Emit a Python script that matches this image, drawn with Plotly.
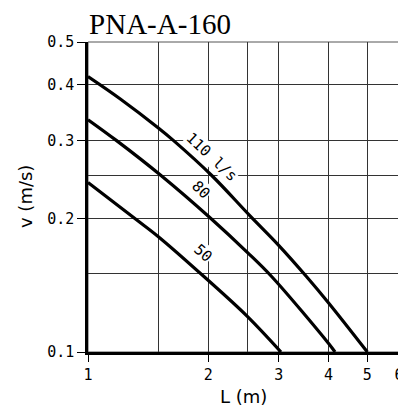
import plotly.graph_objects as go
import math

# Data
L_110 = [1.0, 1.2, 1.5, 1.635, 2.04, 2.54, 3.0, 3.52, 4.0, 5.0]
v_110 = [0.418, 0.373, 0.32, 0.30, 0.25, 0.203, 0.174, 0.148, 0.129, 0.10]
L_80 = [1.0, 1.177, 1.523, 2.03, 2.5, 2.88, 4.0, 4.15]
v_80 = [0.334, 0.30, 0.25, 0.20, 0.168, 0.148, 0.1045, 0.10]
L_50 = [1.0, 1.32, 1.5, 1.95, 2.5, 3.04]
v_50 = [0.241, 0.199, 0.182, 0.148, 0.1205, 0.10]

x_ticks = [1, 2, 3, 4, 5, 6]
x_minor = [1.5, 2.5]
y_ticks = [0.1, 0.2, 0.3, 0.4, 0.5]
y_minor = [0.15, 0.25]

labels = ["110 l/s", "80", "50"]
label_pos = [(2.04, 0.275, 43), (1.92, 0.232, 45), (1.94, 0.167, 42)]

fig = go.Figure()
for L, v in [(L_110, v_110), (L_80, v_80), (L_50, v_50)]:
    fig.add_trace(go.Scatter(x=L, y=v, mode="lines",
                             line=dict(color="black", width=3.2, shape="spline", smoothing=1.0),
                             showlegend=False, hoverinfo="skip"))

for txt, (lx, ly, ang) in zip(labels, label_pos):
    fig.add_annotation(x=math.log10(lx), y=math.log10(ly), text=txt, showarrow=False,
                       textangle=ang, bgcolor="white", borderpad=0,
                       font=dict(family="DejaVu Sans Mono", size=15, color="black"))

# axis titles
fig.add_annotation(xref="paper", yref="paper", x=0.5, y=0, yanchor="middle", yshift=-44,
                   text="L (m)", showarrow=False,
                   font=dict(family="DejaVu Sans", size=18, color="black"))
fig.add_annotation(xref="paper", yref="paper", x=0, y=0.5, xanchor="center", xshift=-63,
                   text="v (m/s)", showarrow=False, textangle=-90,
                   font=dict(family="DejaVu Sans", size=18, color="black"))

fig.update_layout(
    width=398, height=404,
    margin=dict(l=80, r=7, t=34, b=60, autoexpand=False),
    plot_bgcolor="white", paper_bgcolor="white",
    title=dict(text="PNA-A-160", x=152 / 398, xanchor="center", y=0.961, yanchor="middle",
               font=dict(family="Liberation Serif", size=29, color="black")),
)
fig.update_xaxes(
    type="log", range=[0, math.log10(6)], automargin=False,
    tickvals=x_ticks, ticktext=[str(t) for t in x_ticks],
    ticks="outside", ticklen=7, tickwidth=1, tickcolor="black",
    ticklabeloverflow="allow",
    showgrid=True, gridcolor="#333", gridwidth=1,
    minor=dict(tickvals=x_minor, showgrid=True, gridcolor="#333", gridwidth=1, ticks=""),
    showline=True, linecolor="black", linewidth=2.5,
    tickfont=dict(family="DejaVu Sans Mono", size=15, color="black"),
    zeroline=False,
)
fig.update_yaxes(
    type="log", range=[-1, math.log10(0.5)], automargin=False,
    tickvals=y_ticks, ticktext=[str(t) for t in y_ticks],
    ticks="outside", ticklen=8, tickwidth=1, tickcolor="black",
    ticklabeloverflow="allow",
    showgrid=True, gridcolor="#333", gridwidth=1,
    minor=dict(tickvals=y_minor, showgrid=True, gridcolor="#333", gridwidth=1, ticks=""),
    showline=True, linecolor="black", linewidth=2.5,
    tickfont=dict(family="DejaVu Sans Mono", size=15, color="black"),
    zeroline=False,
)
fig.add_shape(type="rect", xref="paper", yref="paper", x0=0, x1=1, y0=0, y1=1,
              line=dict(color="#555", width=1), layer="below")

fig.write_html("out.html")
